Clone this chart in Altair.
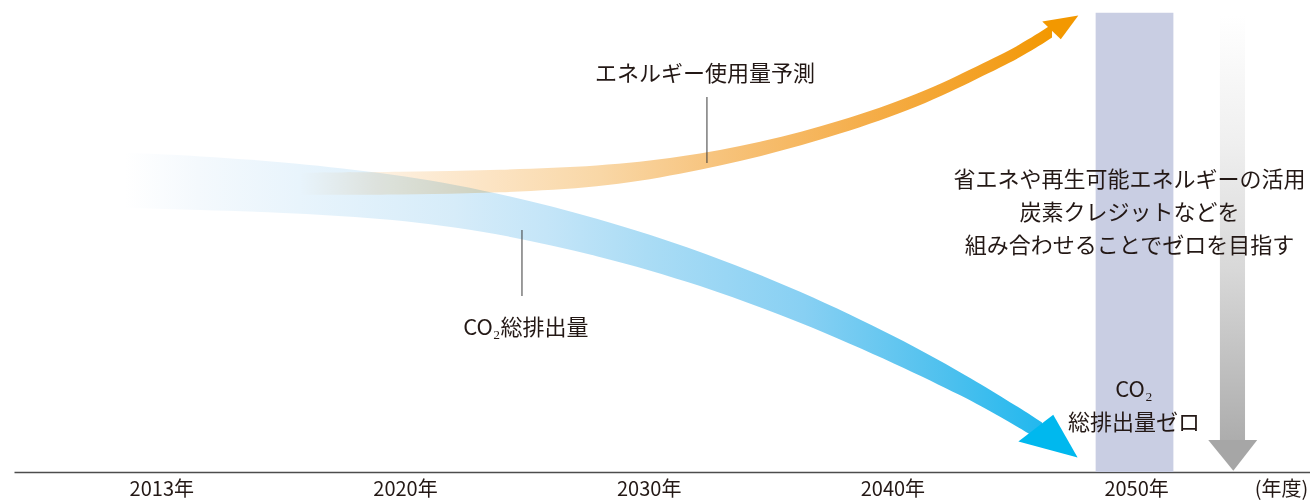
import altair as alt
import pandas as pd

# Horizontal axis: evenly spaced year slots (slot index 0..4)
YEAR_LABELS = ["2013年", "2020年", "2030年", "2040年", "2050年"]
UNIT_LABEL = "(年度)"
UNIT_SLOT = 4.595

# CO2 total emissions band: slot position with upper / lower edge (relative level)
CO2_SLOT = [-0.149, 0.159, 0.487, 0.897, 1.308, 1.800, 2.211, 2.621, 3.031, 3.290, 3.442, 3.614]
CO2_UPPER = [79.8, 79.0, 77.6, 75.0, 70.9, 63.4, 55.3, 45.4, 33.4, 24.6, 19.1, 12.4]
CO2_LOWER = [66.0, 65.5, 64.9, 63.5, 60.6, 54.1, 46.8, 37.6, 26.6, 18.9, 13.9, 7.6]
CO2_HEAD_SLOT = [3.517, 3.660, 3.760]
CO2_HEAD_LEVEL = [7.6, 14.3, 3.6]

# Energy use forecast band
ENERGY_SLOT = [0.569, 0.979, 1.390, 1.800, 2.128, 2.457, 2.785, 3.113, 3.359, 3.524, 3.655]
ENERGY_UPPER = [74.8, 75.0, 75.5, 76.4, 78.6, 82.3, 87.6, 94.5, 101.8, 106.7, 111.9]
ENERGY_LOWER = [69.3, 69.3, 69.8, 71.1, 74.4, 78.7, 84.4, 91.3, 98.7, 103.5, 108.6]
ENERGY_HEAD_SLOT = [3.615, 3.691, 3.763]
ENERGY_HEAD_LEVEL = [112.6, 108.2, 114.1]

# 2050 target zone and the downward arrow towards zero
TARGET_SLOT = [3.834, 4.153]
TARGET_TOP = 114.8
ZERO_SHAFT_SLOT = [4.344, 4.447]
ZERO_SHAFT_LEVEL = [114.0, 8.0]
ZERO_HEAD_SLOT = [4.296, 4.399, 4.497]
ZERO_HEAD_LEVEL = [8.0, 0.3, 8.0]

# Annotations
NOTE_TEXT = ["エネルギー使用量予測", "CO₂総排出量",
             "省エネや再生可能エネルギーの活用", "炭素クレジットなどを", "組み合わせることでゼロを目指す",
             "CO₂", "総排出量ゼロ"]
NOTE_SLOT = [2.231, 1.496, 3.973, 3.973, 3.973, 3.991, 3.991]
NOTE_LEVEL = [99.5, 36.0, 73.0, 64.75, 56.5, 20.5, 12.25]
LEADER_SLOT = [2.239, 1.480]
LEADER_TOP = [93.75, 60.5]
LEADER_BOTTOM = [77.25, 44.0]

FONT = "Noto Sans CJK JP"
TEXT_COLOR = "#231815"

x_scale = alt.Scale(domain=[-0.6044, 4.7136], nice=False, zero=False)
y_scale = alt.Scale(domain=[0, 118], nice=False, zero=False)

label_array = "[" + ",".join(f"'{t}'" for t in YEAR_LABELS) + "]"
x_axis = alt.Axis(
    values=list(range(len(YEAR_LABELS))) + [UNIT_SLOT],
    labelExpr=f"datum.value > {len(YEAR_LABELS) - 0.5} ? '{UNIT_LABEL}' : {label_array}[round(datum.value)]",
    ticks=False, grid=False, title=None,
    domainColor="#4d4d4d", domainWidth=1.6,
    labelFont=FONT, labelFontSize=20, labelColor=TEXT_COLOR,
    labelPadding=7, labelFlush=False, labelOverlap=False,
)


def X(field):
    return alt.X(f"{field}:Q", scale=x_scale, axis=x_axis, title=None)


def Y(field):
    return alt.Y(f"{field}:Q", scale=y_scale, axis=None)


def gradient(stops, vertical=False):
    return alt.Gradient(
        gradient="linear",
        stops=[alt.GradientStop(color=c, offset=o) for o, c in stops],
        x1=0, y1=0, x2=0 if vertical else 1, y2=1 if vertical else 0,
    )


target_df = pd.DataFrame({"x0": [TARGET_SLOT[0]], "x1": [TARGET_SLOT[1]], "top": [TARGET_TOP], "base": [0.0]})
target = alt.Chart(target_df).mark_rect(color="#c9cee3").encode(
    x=X("x0"), x2="x1", y=Y("top"), y2="base"
)

shaft_df = pd.DataFrame({"x0": [ZERO_SHAFT_SLOT[0]], "x1": [ZERO_SHAFT_SLOT[1]],
                         "top": [ZERO_SHAFT_LEVEL[0]], "bottom": [ZERO_SHAFT_LEVEL[1]]})
shaft = alt.Chart(shaft_df).mark_rect(
    color=gradient([(0, "#ffffff"), (0.3, "#efefef"), (0.6, "#d8d8d8"), (0.85, "#bdbdbd"), (1, "#adadad")],
                   vertical=True)
).encode(x=X("x0"), x2="x1", y=Y("top"), y2="bottom")

zero_head = alt.Chart(pd.DataFrame({"slot": ZERO_HEAD_SLOT, "level": ZERO_HEAD_LEVEL})).mark_line(
    filled=True, color="#a6a6a6"
).encode(x=X("slot"), y=Y("level"))

co2_df = pd.DataFrame({"slot": CO2_SLOT, "upper": CO2_UPPER, "lower": CO2_LOWER})
co2_band = alt.Chart(co2_df).mark_area(
    interpolate="basis",
    color=gradient([(0, "#ffffff"), (0.08, "#f4f9fd"), (0.19, "#e8f4fc"), (0.36, "#d6ecf9"),
                    (0.46, "#c4e5f8"), (0.57, "#aadcf5"), (0.74, "#88d0f3"), (0.9, "#4cc0ee"),
                    (1, "#22b8ee")]),
).encode(x=X("slot"), y=Y("upper"), y2="lower")

energy_df = pd.DataFrame({"slot": ENERGY_SLOT, "upper": ENERGY_UPPER, "lower": ENERGY_LOWER})
energy_band = alt.Chart(energy_df).mark_area(
    interpolate="basis", blend="multiply",
    color=gradient([(0, "#ffffff"), (0.1, "#fdf1e2"), (0.25, "#fce4c4"), (0.4, "#f9d7a6"),
                    (0.55, "#f7c47e"), (0.75, "#f5ae4b"), (0.92, "#f39f1f"), (1, "#f39800")]),
).encode(x=X("slot"), y=Y("upper"), y2="lower")

co2_head = alt.Chart(pd.DataFrame({"slot": CO2_HEAD_SLOT, "level": CO2_HEAD_LEVEL})).mark_line(
    filled=True, color="#00b8ee"
).encode(x=X("slot"), y=Y("level"))

energy_head = alt.Chart(pd.DataFrame({"slot": ENERGY_HEAD_SLOT, "level": ENERGY_HEAD_LEVEL})).mark_line(
    filled=True, color="#f39800"
).encode(x=X("slot"), y=Y("level"))

leaders = alt.Chart(pd.DataFrame({"slot": LEADER_SLOT, "top": LEADER_TOP, "bottom": LEADER_BOTTOM})).mark_rule(
    color="#3a3a3a", strokeWidth=1
).encode(x=X("slot"), y=Y("top"), y2="bottom")

notes = alt.Chart(pd.DataFrame({"slot": NOTE_SLOT, "level": NOTE_LEVEL, "text": NOTE_TEXT})).mark_text(
    font=FONT, fontSize=22, color=TEXT_COLOR, align="center", baseline="middle"
).encode(x=X("slot"), y=Y("level"), text="text:N")

chart = alt.layer(
    target, shaft, zero_head, co2_band, energy_band, co2_head, energy_head, leaders, notes
).properties(
    width=1296, height=472,
    padding={"left": 14, "top": 0, "right": 0, "bottom": 32},
    autosize=alt.AutoSizeParams(type="none"),
).configure_view(stroke=None)

chart.save("out.html", embed_options={"renderer": "svg", "actions": False})
